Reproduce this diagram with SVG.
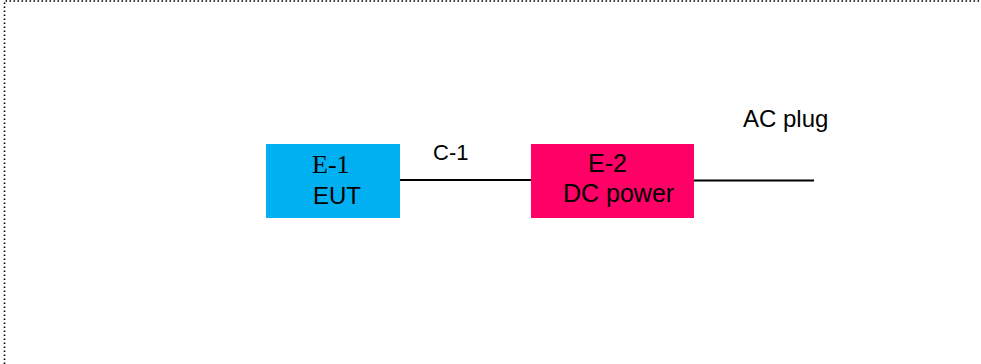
<svg xmlns="http://www.w3.org/2000/svg" width="981" height="364" viewBox="0 0 981 364">
<style>
.sans{font-family:"Liberation Sans",Arial,sans-serif;fill:#000}
.serif{font-family:"Liberation Serif","Times New Roman",serif;fill:#000}
.wire{stroke:#000;stroke-width:2;fill:none}
</style>
<rect x="0" y="0" width="981" height="364" fill="#fff"/>
<path d="M4.5 364 V1 H981" fill="none" stroke="#000" stroke-width="1.6" stroke-dasharray="1.6 2.4"/>
<g id="connectors">
<line class="wire" x1="400" y1="180" x2="531" y2="180"/>
<line class="wire" x1="694" y1="180.5" x2="814" y2="180.5"/>
</g>
<g id="E1">
<rect x="266" y="144" width="134" height="74" fill="#00B0F0"/>
<text class="serif" x="312" y="173" font-size="26">E-1</text>
<text class="sans" x="313" y="204" font-size="24">EUT</text>
</g>
<g id="E2">
<rect x="531" y="144" width="163" height="74" fill="#FF0066"/>
<text class="sans" x="588" y="172" font-size="25">E-2</text>
<text class="sans" x="563" y="202" font-size="25">DC power</text>
</g>
<g id="C1">
<text class="sans" x="433" y="160" font-size="22">C-1</text>
</g>
<g id="ACplug">
<text class="sans" x="743" y="127" font-size="24">AC plug</text>
</g>
</svg>
